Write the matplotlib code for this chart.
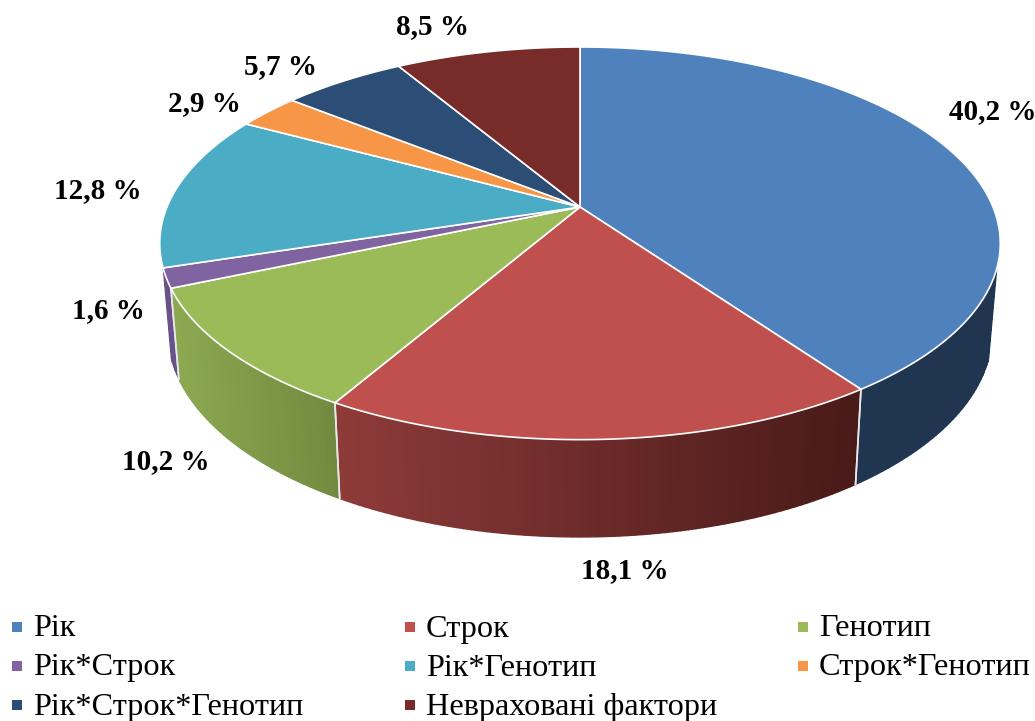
import matplotlib
matplotlib.use('Agg')
import matplotlib.pyplot as plt
import matplotlib.colors as mcolors
from matplotlib.patches import Polygon, Rectangle
import numpy as np

etiquetas = ['Рік', 'Строк', 'Генотип', 'Рік*Строк', 'Рік*Генотип',
             'Строк*Генотип', 'Рік*Строк*Генотип', 'Невраховані фактори']
valores = [40.2, 18.1, 10.2, 1.6, 12.8, 2.9, 5.7, 8.5]
textos = ['40,2 %', '18,1 %', '10,2 %', '1,6 %', '12,8 %', '2,9 %', '5,7 %', '8,5 %']
colores = ['#4F81BD', '#C0504D', '#9BBB59', '#8064A2', '#4BACC6', '#F79646', '#2C4D75', '#772C2A']
# color de la pared: lado izquierdo y lado derecho
pared_izq = ['#1F3550', '#8E3B39', '#8DAA52', '#6A5288', '#3A8396', '#B86F33', '#20385A', '#55201E']
pared_der = ['#1F3550', '#481A18', '#71893F', '#6A5288', '#3A8396', '#B86F33', '#20385A', '#55201E']

pos_textos = [(993, 112), (625, 571), (166, 462), (108, 311), (98, 191), (204, 104), (281, 67), (433, 27)]
pos_leyenda = [(12, 627), (405, 627), (798, 627), (12, 666), (405, 666), (798, 666), (12, 705), (405, 705)]

# tramo visible de la pared, en fracciones de vuelta
pared_ini, pared_fin = 0.30, 0.70

fig = plt.figure(figsize=(10.35, 7.21), dpi=100)
ax = fig.add_axes([0, 0, 1, 1])
ax.set_xlim(0, 1035)
ax.set_ylim(721, 0)
ax.axis('off')


def proyectar(ang, b, a, cy):
    # ang en fracciones de vuelta, sentido horario desde arriba
    u = np.sin(2 * np.pi * ang)
    v = np.cos(2 * np.pi * ang)
    w = 1 + 0.185 * v
    return 580 + b * u / w, cy - a * v / w


def borde_sup(ang):
    return proyectar(ang, 413, 189.6, 207)


def borde_inf(ang):
    return proyectar(ang, 405, 198, 294)


def mezcla(c1, c2, t):
    c1 = np.array(mcolors.to_rgb(c1))
    c2 = np.array(mcolors.to_rgb(c2))
    return tuple(c1 + (c2 - c1) * t)


fracciones = np.array(valores) / sum(valores)
limites = np.concatenate([[0], np.cumsum(fracciones)])

# Paredes (solo la parte frontal se ve)
for i in range(len(valores)):
    a0, a1 = max(limites[i], pared_ini), min(limites[i + 1], pared_fin)
    if a1 <= a0:
        continue
    n = max(int((a1 - a0) * 400), 4)
    angs = np.linspace(a0, a1, n + 1)
    x_min = min(borde_sup(angs)[0].min(), borde_inf(angs)[0].min())
    x_max = max(borde_sup(angs)[0].max(), borde_inf(angs)[0].max())
    for j in range(n):
        xa, ya = borde_sup(angs[j:j + 2])
        xb, yb = borde_inf(angs[j:j + 2])
        t = (0.5 * (xa.mean() + xb.mean()) - x_min) / (x_max - x_min)
        col = mezcla(pared_izq[i], pared_der[i], t)
        ax.add_patch(Polygon(np.column_stack([np.r_[xa, xb[::-1]], np.r_[ya, yb[::-1]]]),
                             closed=True, facecolor=col, edgecolor=col, linewidth=1.0, zorder=2))
    # arista vertical clara entre paredes
    for a in (limites[i], limites[i + 1]):
        if pared_ini < a < pared_fin:
            xa, ya = borde_sup(a)
            xb, yb = borde_inf(a)
            ax.plot([xa, xb], [ya, yb], color='#E8E8E8', lw=1.2, zorder=3)

# Cara superior
for i in range(len(valores)):
    angs = np.linspace(limites[i], limites[i + 1], max(int(fracciones[i] * 720), 6))
    x, y = borde_sup(angs)
    ax.add_patch(Polygon(np.column_stack([np.r_[580, x], np.r_[207, y]]), closed=True,
                         facecolor=colores[i], edgecolor='white', linewidth=1.2, zorder=4))

# Porcentajes
for (x, y), t in zip(pos_textos, textos):
    ax.text(x, y, t, ha='center', va='center', fontsize=21, fontweight='bold',
            family='Liberation Serif', color='black', zorder=6)

# Leyenda
for (x, y), t, c in zip(pos_leyenda, etiquetas, colores):
    ax.add_patch(Rectangle((x, y - 5), 10, 10, facecolor=c, edgecolor='none', zorder=5))
    ax.text(x + 21, y + 2, t, ha='left', va='center', fontsize=23.2,
            family='Liberation Serif', color='black', zorder=6)

fig.savefig('out.png', dpi=100)
plt.close(fig)
